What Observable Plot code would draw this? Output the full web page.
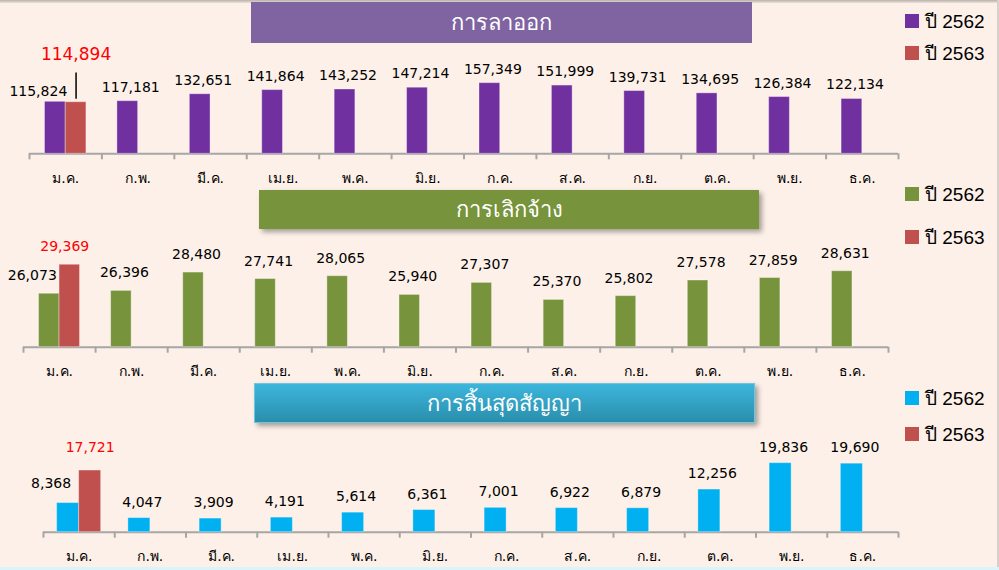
<!DOCTYPE html>
<html><head><meta charset="utf-8">
<script src="https://cdn.jsdelivr.net/npm/d3@7"></script>
<script src="https://cdn.jsdelivr.net/npm/@observablehq/plot@0.6"></script>
<style>
html,body{margin:0;padding:0;}
body{width:999px;height:570px;overflow:hidden;background:#FDF0E8;font-family:Tahoma,"Liberation Sans","Noto Sans",sans-serif;}
#page{position:relative;width:999px;height:570px;overflow:hidden;}
.panel{position:absolute;left:0;}
.banner{position:absolute;color:#fff;font-size:22px;display:flex;align-items:center;justify-content:center;box-sizing:border-box;}
.legend{position:absolute;left:905px;font-size:19px;color:#000;}
.legend .item{position:absolute;left:0;display:flex;align-items:center;white-space:nowrap;}
.legend .sw{width:14px;height:14px;margin-right:6px;}
.topline{position:absolute;left:0;top:0;width:999px;height:3px;background:linear-gradient(#b9b1ab,#ece2db);}
.rightline{position:absolute;right:0;top:0;width:2px;height:570px;background:#d8d0ca;}
.bottomline{position:absolute;left:0;bottom:0;width:999px;height:3px;background:#d9f4fa;}
</style>
</head><body>
<div id="page">
  <div class="topline"></div>
  <div class="rightline"></div>
  <div class="bottomline"></div>
</div>
<script>
const months = ["ม.ค.","ก.พ.","มี.ค.","เม.ย.","พ.ค.","มิ.ย.","ก.ค.","ส.ค.","ก.ย.","ต.ค.","พ.ย.","ธ.ค."];
const years = ["ปี 2562","ปี 2563"];
const titles = ["การลาออก","การเลิกจ้าง","การสิ้นสุดสัญญา"];
const resign2562 = [115824,117181,132651,141864,143252,147214,157349,151999,139731,134695,126384,122134];
const resign2563 = [114894];
const layoff2562 = [26073,26396,28480,27741,28065,25940,27307,25370,25802,27578,27859,28631];
const layoff2563 = [29369];
const contract2562 = [8368,4047,3909,4191,5614,6361,7001,6922,6879,12256,19836,19690];
const contract2563 = [17721];
const yDomains = [[0,180000],[20000,30000],[0,25000]];

const red = "#C0504D";
const panels = [
  {title: titles[0], a: resign2562, b: resign2563, color: "#7030A0", domain: yDomains[0],
   top: 0, mt: 72.5, mb: 36.7, ml: 29, mr: 101, f: 0.286, dy: -14, jdy: -10, rdx: 0, rdy: -48, rsize: 17, leader: true,
   banner: {left: 251, top: 2, w: 501, h: 41, bg: "#8064A2", shadow: false},
   legendTops: [10, 42]},
  {title: titles[1], a: layoff2562, b: layoff2563, color: "#77933C", domain: yDomains[1],
   top: 190, mt: 68.7, mb: 33.3, ml: 23, mr: 111, f: 0.284, dy: -18, jdy: -18, rdx: -5, rdy: -18, rsize: 14, leader: false,
   banner: {left: 259, top: 190, w: 500, h: 39, bg: "#77933C", shadow: true},
   legendTops: [183, 226]},
  {title: titles[2], a: contract2562, b: contract2563, color: "#00B0F0", domain: yDomains[2],
   top: 380, mt: 64.7, mb: 38.3, ml: 43, mr: 101, f: 0.309, dy: -16, jdy: -20, rdx: 0, rdy: -23, rsize: 14, leader: false,
   banner: {left: 254, top: 383, w: 501, h: 40, bg: "linear-gradient(#3cb6dc,#2a8eac)", shadow: true, border: "1.5px solid #6cc6df"},
   legendTops: [387, 423]}
];

const fmt = d3.format(",");
const page = document.getElementById("page");
const FONT = '"DejaVu Sans",Tahoma,"Liberation Sans",sans-serif';

panels.forEach(p => {
  const yMin = p.domain[0], yMax = p.domain[1];
  const nB = p.b.length;
  const marks = [
    Plot.ruleY([yMin], {stroke: "#A6A6A6", strokeWidth: 2}),
    Plot.axisX({ticks: d3.range(months.length + 1), tickSize: 6, tickFormat: () => "", stroke: "#A6A6A6", strokeWidth: 2}),
    Plot.axisX({ticks: d3.range(months.length).map(i => i + 0.5), tickSize: 0, tickPadding: 19,
      tickFormat: v => months[Math.floor(v)], fontSize: 14, fill: "#000"}),
    Plot.rectY(p.a, {x1: (d, i) => i + 0.5 - p.f, x2: (d, i) => i + 0.5, y1: yMin, y2: d => d,
      fill: p.color, stroke: "#ffffff", strokeOpacity: 0.35, strokeWidth: 1}),
    Plot.rectY(p.b, {x1: (d, i) => i + 0.5, x2: (d, i) => i + 0.5 + p.f, y1: yMin, y2: d => d,
      fill: red, stroke: "#ffffff", strokeOpacity: 0.35, strokeWidth: 1}),
    Plot.text(p.a, {filter: (d, i) => i >= nB, x: (d, i) => i + 0.5 - p.f / 2, y: d => d, text: d => fmt(d),
      dy: p.dy, dx: 3, fontSize: 14, fill: "#000"}),
    Plot.text(p.a, {filter: (d, i) => i < nB, x: (d, i) => i + 0.5 - p.f / 2, y: d => d, text: d => fmt(d),
      dy: p.jdy, dx: -17, fontSize: 14, fill: "#000"}),
    Plot.text(p.b, {x: (d, i) => i + 0.5 + p.f / 2, y: d => d, text: d => fmt(d),
      dy: p.rdy, dx: p.rdx, fontSize: p.rsize, fill: "#FF0000"})
  ];
  if (p.leader) marks.push(Plot.ruleX(p.b, {x: (d, i) => i + 0.5 + p.f / 2, y1: d => d, y2: yMax, stroke: "#000", strokeWidth: 1.5, insetTop: -3}));

  const svg = Plot.plot({
    width: 999, height: 190,
    marginTop: p.mt, marginBottom: p.mb, marginLeft: p.ml, marginRight: p.mr,
    x: {type: "linear", domain: [0, months.length], axis: null},
    y: {domain: p.domain, axis: null},
    style: {background: "transparent", overflow: "visible", fontFamily: FONT},
    marks
  });
  const wrap = document.createElement("div");
  wrap.className = "panel";
  wrap.style.top = p.top + "px";
  wrap.appendChild(svg);
  page.appendChild(wrap);

  const b = document.createElement("div");
  b.className = "banner";
  Object.assign(b.style, {left: p.banner.left + "px", top: p.banner.top + "px", width: p.banner.w + "px",
    height: p.banner.h + "px", background: p.banner.bg,
    boxShadow: p.banner.shadow ? "3px 3px 5px rgba(0,0,0,0.35)" : "none",
    border: p.banner.border || "none"});
  b.textContent = p.title;
  page.appendChild(b);

  const leg = d3.select(page).append("div").attr("class", "legend").style("top", "0px");
  const colors = [p.color, red];
  years.forEach((y, i) => {
    const it = leg.append("div").attr("class", "item").style("top", (p.legendTops[i] - 4) + "px");
    it.append("div").attr("class", "sw").style("background", colors[i]);
    it.append("span").text(y);
  });
});
</script>
</body></html>
